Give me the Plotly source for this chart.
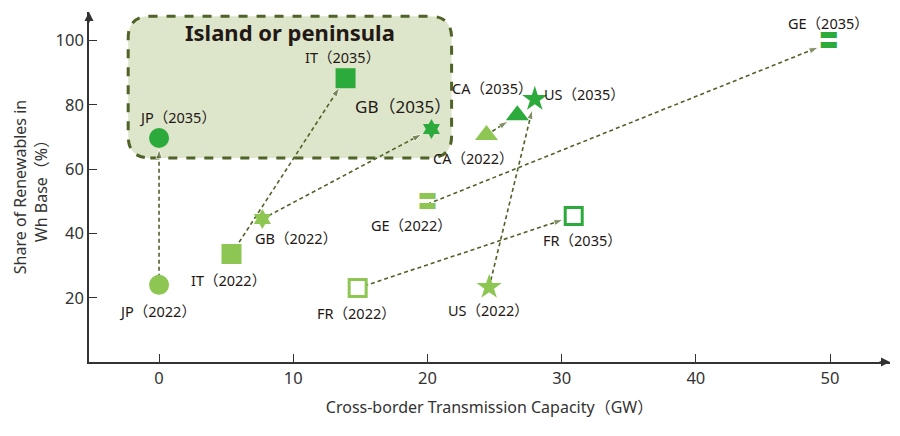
import plotly.graph_objects as go

# ---- data ----
countries = ["JP", "IT", "GB", "CA", "US", "GE", "FR"]
cap_2022 = [0.0, 5.4, 7.7, 24.4, 24.6, 20.0, 14.8]
cap_2035 = [0.0, 13.9, 20.3, 26.7, 28.0, 49.9, 30.9]
res_2022 = [24.0, 33.6, 44.5, 70.6, 23.3, 49.1, 23.0]
res_2035 = [69.7, 88.3, 72.5, 76.8, 81.8, 99.2, 45.4]
x_ticks = [0, 10, 20, 30, 40, 50]
y_ticks = [20, 40, 60, 80, 100]
box_title = "Island or peninsula"
island_x = [-2.3, 21.8]
island_y = [63.5, 107.6]

# ---- styles ----
C22 = "#8DC653"
C35 = "#2DAA3C"
ARROW = "#4F6228"
TXT = "#231815"
FONT = "Noto Sans, Noto Sans CJK JP, sans-serif"
symbols = ["circle", "square", "hexagram", "triangle-up", "star", None, "square-open"]
sizes = [20, 20, 15, 20, 19, None, 17]
# label pixel offsets (xshift, yshift) for 2022 and 2035
off22 = [(-2, -26), (-3, -26), (34, -19), (-13, -23), (-1, -23), (-16, -21), (-1, -25)]
off35 = [(18, 21), (-3, 21), (-28, 22), (-25, 27), (50, 5), (0, 20), (9, -24)]
lab_size22 = [14.5] * 7
lab_size35 = [14.5, 14.5, 17, 14.5, 14.5, 14.5, 14.5]

fig = go.Figure()

# island box (rounded)
x0, x1 = island_x
y0, y1 = island_y
rx, ry = 1.65, 6.8
path = (f"M{x0+rx},{y0} L{x1-rx},{y0} Q{x1},{y0} {x1},{y0+ry} L{x1},{y1-ry} "
        f"Q{x1},{y1} {x1-rx},{y1} L{x0+rx},{y1} Q{x0},{y1} {x0},{y1-ry} "
        f"L{x0},{y0+ry} Q{x0},{y0} {x0+rx},{y0} Z")
fig.add_shape(type="path", path=path, xref="x", yref="y", layer="below",
              fillcolor="#DDE5CA", line=dict(color=ARROW, width=3, dash="dash"))
fig.add_annotation(x=(x0 + x1) / 2, y=y1, yanchor="top", yshift=1, showarrow=False,
                   text=f"<b>{box_title}</b>", font=dict(family=FONT, size=22, color=TXT))

# arrows
for i in range(len(countries)):
    fig.add_trace(go.Scatter(
        x=[cap_2022[i], cap_2035[i]], y=[res_2022[i], res_2035[i]],
        mode="lines+markers",
        line=dict(color=ARROW, width=1.6, dash="4px,3px"),
        marker=dict(symbol=["circle", "arrow"], size=[0, 10], angleref="previous",
                    standoff=[0, 11], color=ARROW),
        hoverinfo="skip", showlegend=False))

# markers
for i, c in enumerate(countries):
    for xs, ys, col, off, ls, yr in [(cap_2022, res_2022, C22, off22, lab_size22, "2022"),
                                     (cap_2035, res_2035, C35, off35, lab_size35, "2035")]:
        if symbols[i] is None:
            fig.add_trace(go.Scatter(x=[xs[i]], y=[ys[i]], mode="text", text=["〓"],
                                     textfont=dict(family="Noto Sans CJK JP", size=20, color=col),
                                     textposition="middle center", showlegend=False))
        else:
            open_ = symbols[i].endswith("open")
            fig.add_trace(go.Scatter(
                x=[xs[i]], y=[ys[i]], mode="markers", showlegend=False,
                marker=dict(symbol=symbols[i].replace("-open", ""), size=sizes[i],
                            color="white" if open_ else col,
                            line=dict(width=3 if open_ else 0, color=col))))
        fig.add_annotation(x=xs[i], y=ys[i], xshift=off[i][0], yshift=off[i][1],
                           text=f"{c}（{yr}）", showarrow=False,
                           font=dict(family=FONT, size=ls[i], color=TXT))

# axis arrows
fig.add_annotation(xref="paper", yref="paper", x=1, y=0, ax=-12, ay=0, text="",
                   showarrow=True, arrowhead=2, arrowsize=1.2, arrowwidth=1.5, arrowcolor="#333")
fig.add_annotation(xref="paper", yref="paper", x=0, y=1, ax=0, ay=12, text="",
                   showarrow=True, arrowhead=2, arrowsize=1.2, arrowwidth=1.5, arrowcolor="#333")

axis_common = dict(showgrid=False, zeroline=False, showline=True, linecolor="#333",
                   linewidth=1.5, ticks="inside", ticklen=8, tickwidth=1.3, tickcolor="#333",
                   automargin=False,
                   tickfont=dict(family=FONT, size=16.5, color="#333"))
fig.update_xaxes(range=[-5.22, 54.47], tickvals=x_ticks, **axis_common,
                 title=dict(text="Cross-border Transmission Capacity（GW）", standoff=14,
                            font=dict(family=FONT, size=16, color="#333")))
fig.update_yaxes(range=[0, 108.9], tickvals=y_ticks, **axis_common,
                 title=dict(text="Share of Renewables in<br>Wh Base（%）", standoff=4,
                            font=dict(family=FONT, size=16, color="#333")))
fig.update_layout(width=900, height=436, margin=dict(l=89, r=10, t=12, b=74),
                  plot_bgcolor="white", paper_bgcolor="white")
fig.write_html("out.html", config={"displayModeBar": False},
               post_script="document.body.style.margin='0px';")
